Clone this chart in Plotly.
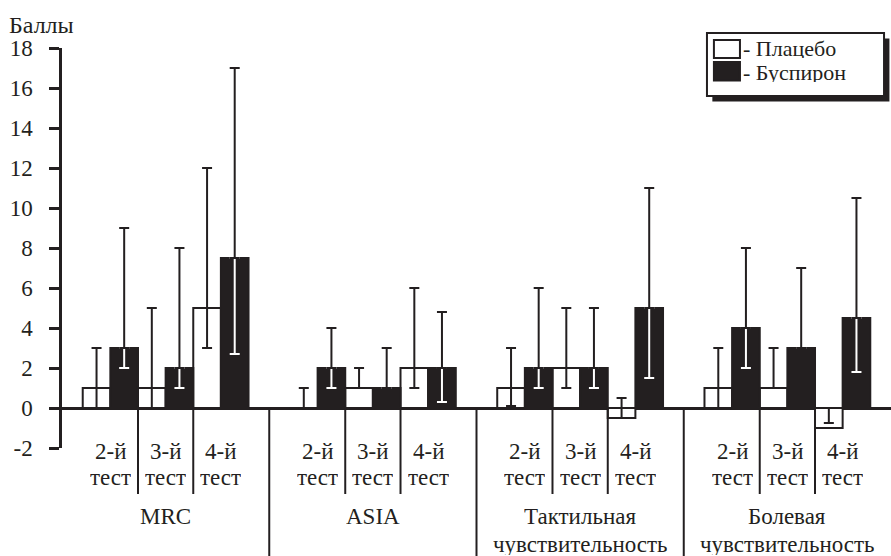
import plotly.graph_objects as go

# ---------------- data ----------------
sections = ["MRC", "ASIA", "Тактильная<br>чувствительность", "Болевая<br>чувствительность"]
tests = ["2-й<br>тест", "3-й<br>тест", "4-й<br>тест"]
series_names = ["- Плацебо", "- Буспирон"]
y_title = "Баллы"
y_ticks = [-2, 0, 2, 4, 6, 8, 10, 12, 14, 16, 18]

# order: MRC(2,3,4), ASIA(2,3,4), Tactile(2,3,4), Pain(2,3,4)
placebo = [1, 1, 5, 0, 1, 2, 1, 2, -0.5, 1, 1, -1]
placebo_low = [0, 0, 3, 0, 1, 1, 0.1, 1, -0.5, 0, 1, -0.75]
placebo_high = [3, 5, 12, 1, 2, 6, 3, 5, 0.5, 3, 3, 0]
buspirone = [3, 2, 7.5, 2, 1, 2, 2, 2, 5, 4, 3, 4.5]
buspirone_low = [2, 1, 2.7, 1, 1, 0.3, 1, 1, 1.5, 2, 3, 1.8]
buspirone_high = [9, 8, 17, 4, 3, 4.8, 6, 5, 11, 8, 7, 10.5]

# ---------------- style / layout params ----------------
INK = "#231f20"
FONT = "Liberation Serif, DejaVu Serif, serif"
FS = 23
SEC_W = 3.75      # width of one section in x units
PAD = 0.375       # gap before the first test slot of a section
BAR_W = 0.5
Y_MIN, Y_MAX = -2, 18
PLOT_H = 400      # plot-area height in px (used to place labels in paper units)

def py(px_below_top):
    return (48 + PLOT_H - px_below_top) / PLOT_H

n_sec, n_test = len(sections), len(tests)
centers = [i * SEC_W + PAD + j + 0.5 for i in range(n_sec) for j in range(n_test)]
x_pl = [c - BAR_W / 2 for c in centers]
x_bu = [c + BAR_W / 2 for c in centers]

fig = go.Figure()

fig.add_trace(go.Bar(x=x_pl, y=placebo, width=BAR_W, name=series_names[0],
                     marker=dict(color="white", line=dict(color=INK, width=2)),
                     showlegend=False, hoverinfo="skip"))
fig.add_trace(go.Bar(x=x_bu, y=buspirone, width=BAR_W, name=series_names[1],
                     marker=dict(color=INK, line=dict(color=INK, width=2)),
                     showlegend=False, hoverinfo="skip"))

def err_trace(x, lo, hi, color):
    return go.Scatter(
        x=x, y=lo, mode="markers", marker=dict(size=1, opacity=0),
        error_y=dict(type="data", symmetric=False,
                     array=[h - l for l, h in zip(lo, hi)],
                     arrayminus=[0] * len(lo),
                     color=color, thickness=2, width=5),
        showlegend=False, hoverinfo="skip")

# placebo: whole range in black
fig.add_trace(err_trace(x_pl, placebo_low, placebo_high, INK))
# buspirone: part inside the black bar in white, part above in black
fig.add_trace(err_trace(x_bu, buspirone_low, buspirone, "white"))
fig.add_trace(err_trace(x_bu, buspirone, buspirone_high, INK))

# ---------------- separators below the axis ----------------
zero_p = (0 - Y_MIN) / (Y_MAX - Y_MIN)
shapes = []
for i in range(n_sec):
    for j in range(1, n_test):
        xs = i * SEC_W + PAD + j
        shapes.append(dict(type="line", xref="x", yref="paper", x0=xs, x1=xs,
                           y0=zero_p, y1=py(494), line=dict(color=INK, width=2)))
for i in range(1, n_sec):
    xs = i * SEC_W
    shapes.append(dict(type="line", xref="x", yref="paper", x0=xs, x1=xs,
                       y0=zero_p, y1=py(560), line=dict(color=INK, width=2)))

# ---------------- manual legend ----------------
lx0, lx1 = 0.778, 0.9916
ly0, ly1 = py(96), py(33)
sh_dx, sh_dy = 0.0065, 0.0135
shapes.append(dict(type="rect", xref="paper", yref="paper",
                   x0=lx0 + sh_dx, x1=lx1 + sh_dx, y0=ly0 - sh_dy, y1=ly1 - sh_dy,
                   fillcolor=INK, line=dict(width=0)))
shapes.append(dict(type="rect", xref="paper", yref="paper",
                   x0=lx0, x1=lx1, y0=ly0, y1=ly1,
                   fillcolor="white", line=dict(color=INK, width=2)))
sw_x0, sw_x1 = 0.7864, 0.8178
shapes.append(dict(type="rect", xref="paper", yref="paper", x0=sw_x0, x1=sw_x1,
                   y0=py(58), y1=py(40), fillcolor="white", line=dict(color=INK, width=2)))
shapes.append(dict(type="rect", xref="paper", yref="paper", x0=sw_x0, x1=sw_x1,
                   y0=py(80.5), y1=py(62), fillcolor=INK, line=dict(color=INK, width=2)))

annotations = []
for name, yc in zip(series_names, [47.5, 72]):
    annotations.append(dict(text=name, xref="paper", yref="paper", x=0.8195, y=py(yc),
                            xanchor="left", yanchor="middle", showarrow=False, height=20,
                            font=dict(family=FONT, size=22, color=INK)))

# ---------------- category labels (one annotation per text line) ----------------
for k, c in enumerate(centers):
    for line, yc in zip(tests[k % n_test].split("<br>"), [451, 477]):
        annotations.append(dict(text=line, xref="x", yref="paper", x=c, y=py(yc),
                                xanchor="center", yanchor="middle", showarrow=False, height=22,
                                font=dict(family=FONT, size=FS, color=INK)))
for i, s in enumerate(sections):
    for line, yc in zip(s.split("<br>"), [516, 544]):
        annotations.append(dict(text=line, xref="x", yref="paper", x=i * SEC_W + SEC_W / 2,
                                y=py(yc), xanchor="center", yanchor="middle",
                                showarrow=False, height=22,
                                font=dict(family=FONT, size=FS, color=INK)))

annotations.append(dict(text=y_title, xref="paper", yref="paper", x=-0.066, y=py(25),
                        xanchor="left", yanchor="middle", showarrow=False, height=20,
                        font=dict(family=FONT, size=24, color=INK)))

fig.update_layout(
    width=891, height=556,
    margin=dict(l=62, r=0, t=48, b=108),
    paper_bgcolor="white", plot_bgcolor="white",
    barmode="overlay",
    shapes=shapes, annotations=annotations,
    font=dict(family=FONT, size=FS, color=INK),
    xaxis=dict(range=[0, n_sec * SEC_W], showticklabels=False, showgrid=False,
               zeroline=False, showline=False, ticks=""),
    yaxis=dict(range=[Y_MIN, Y_MAX], tickvals=y_ticks, ticktext=[str(v) for v in y_ticks],
               showgrid=False, zeroline=True, zerolinecolor=INK, zerolinewidth=2.5,
               showline=True, linecolor=INK, linewidth=2.5,
               ticks="outside", ticklen=10, tickwidth=2.5, tickcolor=INK,
               ticklabelstandoff=12,
               tickfont=dict(family=FONT, size=FS, color=INK)),
)

fig.write_html("out.html")
